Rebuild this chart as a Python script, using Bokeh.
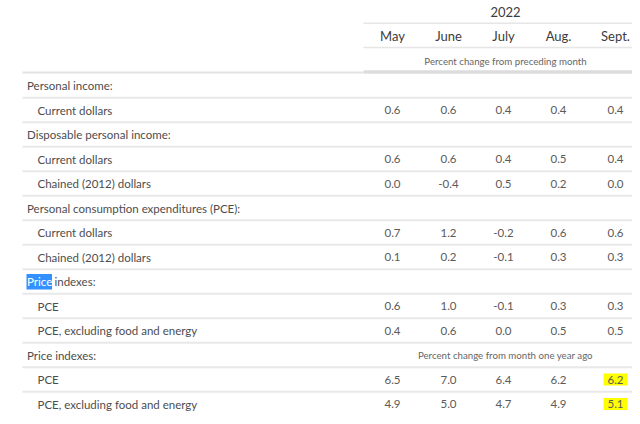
from bokeh.plotting import figure
from bokeh.models import Range1d, ColumnDataSource
from bokeh.core.properties import value
from bokeh.embed import file_html
from bokeh.resources import INLINE

# ---- data ----
year_label = "2022"
months = ["May", "June", "July", "Aug.", "Sept."]
unit_note_top = "Percent change from preceding month"
unit_note_bottom = "Percent change from month one year ago"

row_labels = [
    "Personal income:",
    "Current dollars",
    "Disposable personal income:",
    "Current dollars",
    "Chained (2012) dollars",
    "Personal consumption expenditures (PCE):",
    "Current dollars",
    "Chained (2012) dollars",
    "Price indexes:",
    "PCE",
    "PCE, excluding food and energy",
    "Price indexes:",
    "PCE",
    "PCE, excluding food and energy",
]
row_is_header = [True, False, True, False, False, True, False, False, True, False, False, True, False, False]

personal_income_current = [0.6, 0.6, 0.4, 0.4, 0.4]
disposable_current = [0.6, 0.6, 0.4, 0.5, 0.4]
disposable_chained = [0.0, -0.4, 0.5, 0.2, 0.0]
pce_current = [0.7, 1.2, -0.2, 0.6, 0.6]
pce_chained = [0.1, 0.2, -0.1, 0.3, 0.3]
price_pce_mom = [0.6, 1.0, -0.1, 0.3, 0.3]
price_core_mom = [0.4, 0.6, 0.0, 0.5, 0.5]
price_pce_yoy = [6.5, 7.0, 6.4, 6.2, 6.2]
price_core_yoy = [4.9, 5.0, 4.7, 4.9, 5.1]

row_values = [
    None, personal_income_current,
    None, disposable_current, disposable_chained,
    None, pce_current, pce_chained,
    None, price_pce_mom, price_core_mom,
    None, price_pce_yoy, price_core_yoy,
]
highlighted_cells = [(12, 4), (13, 4)]   # (row, month index) marked in yellow

# ---- layout ----
W, H = 632, 416
FONT = value("Lato")
FS = "11.5px"
col_x = [392, 448, 503, 558, 615]
row_y0, row_h = 85.0, 24.5
line_l, head_l, line_r = 22, 363, 640

p = figure(width=W, height=H, output_backend="svg", toolbar_location=None,
           x_range=Range1d(0, W), y_range=Range1d(H, 0),
           min_border=0)
p.axis.visible = False
p.grid.visible = False
p.outline_line_color = None
p.background_fill_color = "white"
p.border_fill_color = "white"

def ry(i):
    return row_y0 + row_h * i

# header
p.text(x=[505], y=[11], text=[year_label], text_font=FONT, text_font_size="13px",
       text_color="#3c3c3c", text_align="center", text_baseline="middle")
p.segment(x0=[head_l, head_l], y0=[22.7, 47], x1=[line_r, line_r], y1=[22.7, 47],
          line_color="#e6e6e6", line_width=1.5)
p.text(x=col_x, y=[35] * 5, text=months, text_font=FONT, text_font_size="13px",
       text_color="#3c3c3c", text_align="center", text_baseline="middle")
p.text(x=[505], y=[60], text=[unit_note_top], text_font=FONT, text_font_size="9.7px",
       text_color="#666666", text_align="center", text_baseline="middle")
p.segment(x0=[line_l], y0=[72], x1=[head_l], y1=[72], line_color="#e3e3e3", line_width=2)
p.segment(x0=[head_l], y0=[71.5], x1=[line_r], y1=[71.5], line_color="#dcdcdc", line_width=3.5)

# row separators (between rows only)
n = len(row_labels)
sep_y = [ry(i) + 12.3 for i in range(n - 1)]
p.segment(x0=[line_l] * (n - 1), y0=sep_y, x1=[line_r] * (n - 1), y1=sep_y,
          line_color="#e8e8e8", line_width=2)

# highlights
hx0, hx1, hy0, hy1 = [], [], [], []
for r, c in highlighted_cells:
    hx0.append(col_x[c] - 12); hx1.append(col_x[c] + 12)
    hy0.append(ry(r) - 6); hy1.append(ry(r) + 6)
p.quad(left=hx0, right=hx1, top=hy0, bottom=hy1, fill_color="#ffff00", line_color=None)

# blue selection over "Price" in first Price indexes row
sel_row = 8
p.quad(left=[26], right=[51.5], top=[ry(sel_row) - 7.5], bottom=[ry(sel_row) + 8],
       fill_color="#3390ff", line_color=None)

# labels
lx, ly, lt = [], [], []
for i, (lab, hdr) in enumerate(zip(row_labels, row_is_header)):
    if i == sel_row:
        continue
    lx.append(26.5 if hdr else 37); ly.append(ry(i)); lt.append(lab)
p.text(x=lx, y=ly, text=lt, text_font=FONT, text_font_size=FS, text_color="#4d4d4d",
       text_align="left", text_baseline="middle")
sel_word, rest = row_labels[sel_row].split(" ", 1)
p.text(x=[26.5], y=[ry(sel_row)], text=[sel_word], text_font=FONT, text_font_size=FS,
       text_color="#ffffff", text_align="left", text_baseline="middle")
p.text(x=[54], y=[ry(sel_row)], text=[rest], text_font=FONT, text_font_size=FS,
       text_color="#4d4d4d", text_align="left", text_baseline="middle")

p.text(x=[505], y=[ry(11)], text=[unit_note_bottom], text_font=FONT, text_font_size="9.7px",
       text_color="#666666", text_align="center", text_baseline="middle")

# values
vx, vy, vt = [], [], []
for i, vals in enumerate(row_values):
    if vals is None:
        continue
    for c, v in enumerate(vals):
        vx.append(col_x[c]); vy.append(ry(i)); vt.append(f"{v:.1f}")
src = ColumnDataSource(dict(x=vx, y=vy, t=vt))
p.text(x="x", y="y", text="t", source=src, text_font=FONT, text_font_size=FS,
       text_color="#5a5a5a", text_align="center", text_baseline="middle")

open("out.html", "w").write(file_html(p, INLINE))
